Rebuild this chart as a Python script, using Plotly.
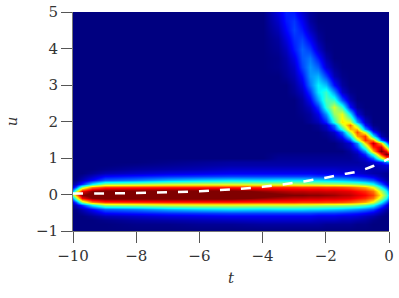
import plotly.graph_objects as go

t_grid = [-10,-9.9,-9.7,-9.4,-9,-8,-7,-6,-5,-4,-3.5,-3.25,-3,-2.75,-2.5,-2.25,-2,-1.75,-1.5,-1.25,-1,-0.75,-0.5,-0.25,-0.1,0]
u_grid = [-1,-0.8,-0.7,-0.6,-0.5,-0.4,-0.3,-0.2,-0.1,0,0.1,0.2,0.3,0.4,0.5,0.6,0.7,0.8,0.9,1,1.1,1.2,1.3,1.4,1.5,1.6,1.7,1.8,1.9,2,2.2,2.4,2.6,2.8,3,3.25,3.5,3.75,4,4.25,4.5,4.75,5]

L = [0]*10  # columns left of t=-3.5 are empty above u=1
density = [
 [0]*26,
 [0,0,0,0,0,1,1,2,2,3,3,3,3,3,3,3,2,2,2,2,1,1,0,0,0,0],
 [0,0,0,0,1,3,4,5,6,7,7,7,7,7,7,6,6,6,5,5,4,3,1,0,0,0],
 [0,0,0,2,5,7,9,10,11,11,11,11,11,11,11,10,10,10,9,9,8,6,4,1,0,0],
 [0,0,2,6,12,14,16,17,18,18,18,18,18,18,18,17,17,17,16,15,14,12,9,4,1,0],
 [0,1,5,12,21,24,29,32,34,33,34,34,34,34,33,33,32,31,30,28,26,23,19,9,4,2],
 [3,6,16,35,50,52,55,56,56,55,55,55,55,54,54,53,52,52,51,50,48,44,37,21,11,5],
 [10,20,50,72,79,80,81,81,81,80,80,80,80,79,79,79,78,78,77,75,72,68,58,36,22,13],
 [30,50,85,95,99,99,99,99,99,94,92,91,90,90,89,89,88,88,87,86,83,80,73,53,38,25],
 [50,70,95,100,100,100,100,100,100,100,98,97,96,96,95,95,94,93,91,90,87,84,78,60,45,30],
 [30,50,85,95,99,99,99,99,99,94,92,91,90,90,89,89,88,88,87,86,83,80,73,53,38,25],
 [10,20,50,72,79,80,81,81,81,80,80,80,80,79,79,79,78,78,77,75,72,68,58,36,22,13],
 [3,6,16,35,50,52,55,56,56,55,55,55,55,54,54,53,52,52,51,50,48,44,37,21,11,5],
 [0,1,5,12,21,24,29,32,34,33,34,34,34,34,33,33,32,31,30,28,26,23,19,9,4,2],
 [0,0,2,6,12,14,16,17,18,18,18,18,18,18,18,17,17,17,16,15,14,12,9,4,2,2],
 [0,0,0,2,5,7,9,10,11,11,11,11,11,11,11,10,10,10,9,9,8,6,4,3,2,2],
 [0,0,0,0,1,3,4,5,7,7,7,7,7,7,7,7,7,7,6,6,6,5,4,5,5,4],
 [0,0,0,0,0,1,2,3,4,4,4,4,4,4,4,4,4,4,4,4,4,4,5,7,9,9],
 [0,0,0,0,0,0,1,2,3,3,3,3,3,3,3,3,3,3,3,3,3,5,8,14,22,26],
 L+[2,2,2,2,2,2,2,2,2,2,4,8,22,54,73,80],
 L+[1,1,1,1,1,1,1,1,1,2,5,16,42,80,97,92],
 L+[0,0,0,0,0,0,0,0,0,3,9,27,67,97,85,65],
 L+[0,0,0,0,0,0,0,0,2,6,18,45,81,88,59,39],
 L+[0,0,0,0,0,0,0,0,3,8,25,63,91,66,33,12],
 L+[0,0,0,0,0,0,0,2,6,20,50,80,70,22,7,1],
 L+[0,0,0,0,0,0,1,4,14,36,69,79,36,5,1,0],
 L+[0,0,0,0,0,0,2,7,21,52,77,56,16,2,0,0],
 L+[0,0,0,0,0,1,5,16,39,67,66,27,5,0,0,0],
 L+[0,0,0,0,0,2,7,22,53,74,48,13,1,0,0,0],
 L+[0,0,0,0,2,5,15,39,62,57,28,7,0,0,0,0],
 L+[0,0,0,1,3,10,26,50,58,35,9,1,0,0,0,0],
 L+[0,0,0,2,6,17,40,56,41,13,2,0,0,0,0,0],
 L+[0,0,0,3,11,27,44,41,20,5,0,0,0,0,0,0],
 L+[0,0,2,6,17,34,41,26,7,1,0,0,0,0,0,0],
 L+[0,0,3,9,23,35,30,13,3,0,0,0,0,0,0,0],
 L+[0,2,5,13,26,29,18,5,1,0,0,0,0,0,0,0],
 L+[1,3,7,18,26,21,8,2,0,0,0,0,0,0,0,0],
 L+[1,4,10,20,23,14,4,0,0,0,0,0,0,0,0,0],
 L+[2,6,14,21,17,7,1,0,0,0,0,0,0,0,0,0],
 L+[3,9,16,18,11,3,0,0,0,0,0,0,0,0,0,0],
 L+[5,12,18,14,6,1,0,0,0,0,0,0,0,0,0,0],
 L+[7,14,17,11,3,0,0,0,0,0,0,0,0,0,0,0],
 L+[9,15,14,7,2,0,0,0,0,0,0,0,0,0,0,0],
]

mean_t = [-10,-9,-8,-7,-6,-5,-4,-3,-2,-1.5,-1,-0.5,0]
mean_u = [0.03,0.03,0.04,0.06,0.09,0.14,0.21,0.32,0.46,0.55,0.63,0.78,0.98]

x_ticks = [-10,-8,-6,-4,-2,0]
x_labels = ["−10","−8","−6","−4","−2","0"]
y_ticks = [-1,0,1,2,3,4,5]
y_labels = ["−1","0","1","2","3","4","5"]

jet = [[0,"#000080"],[0.125,"#0000ff"],[0.375,"#00ffff"],[0.625,"#ffff00"],[0.875,"#ff0000"],[1,"#800000"]]

fig = go.Figure()
fig.add_trace(go.Heatmap(x=t_grid, y=u_grid, z=density, zmin=0, zmax=96, colorscale=jet,
                         zsmooth="best", showscale=False, hoverinfo="skip"))
fig.add_trace(go.Scatter(x=mean_t, y=mean_u, mode="lines", hoverinfo="skip", showlegend=False,
                         line=dict(color="white", width=2.5, dash="10px,11px", shape="spline")))

font = dict(family="DejaVu Serif", size=15, color="#333333")
axis = dict(showgrid=False, zeroline=False, showline=True, linecolor="#777777", linewidth=1,
            automargin=False,
            ticks="outside", ticklen=11, tickcolor="#555555", tickwidth=1, tickfont=font)
fig.update_xaxes(range=[-10,0], tickvals=x_ticks, ticktext=x_labels,
                 title=dict(text="<i>t</i>", font=font, standoff=8), **axis)
fig.update_yaxes(range=[-1,5], tickvals=y_ticks, ticktext=y_labels,
                 title=dict(text="<i>u</i>", font=font, standoff=14), **axis)
fig.update_layout(template="none", font=font, width=399, height=298, margin=dict(l=73,r=10,t=12,b=66.5),
                  paper_bgcolor="white", plot_bgcolor="#000080", showlegend=False)
fig.write_html("out.html", config=dict(displayModeBar=False),
               post_script="document.body.style.margin='0';document.body.style.padding='0';")
